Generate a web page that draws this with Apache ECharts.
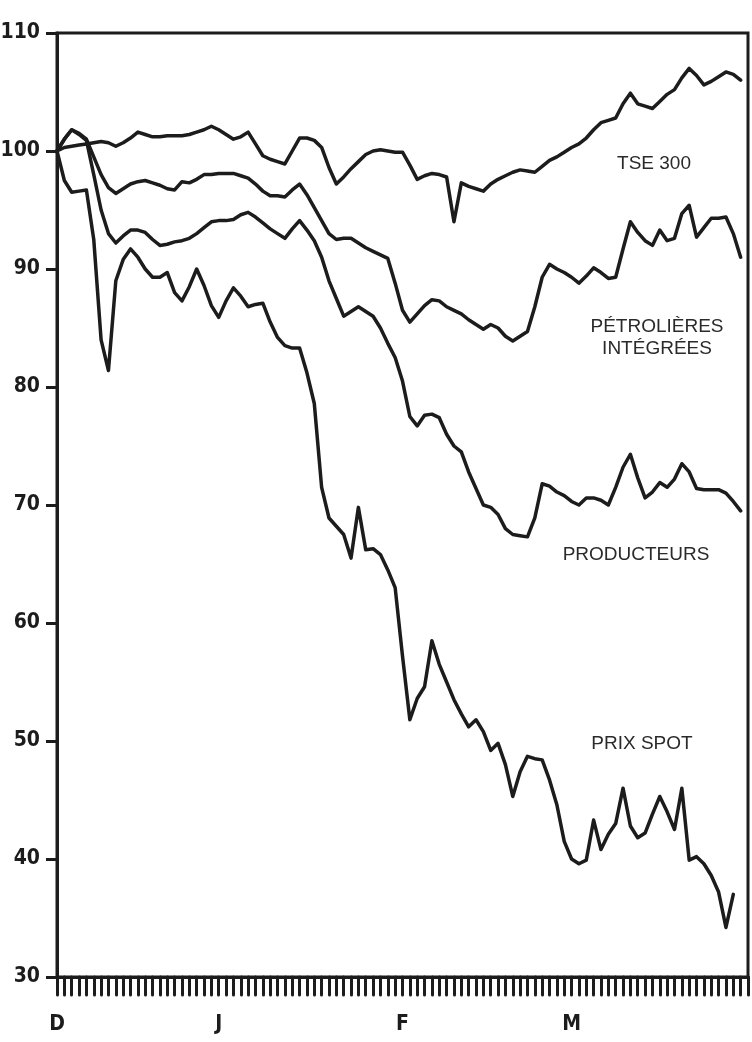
<!DOCTYPE html>
<html>
<head>
<meta charset="utf-8">
<script src="https://cdn.jsdelivr.net/npm/echarts@6/dist/echarts.min.js"></script>
<style>
html,body{margin:0;padding:0;background:#fff;}
#chart{width:752px;height:1042px;}
</style>
</head>
<body>
<div id="chart"></div>
<script>
// Business-day index positions (0 .. 94); month tick labels
const nDays = 95;
const monthTicks = [['D', 0], ['J', 22], ['F', 47], ['M', 70]];
const yTicks = [30, 40, 50, 60, 70, 80, 90, 100, 110];

const tse300 = [100.0,100.3,100.4,100.5,100.6,100.7,100.8,100.7,100.4,100.7,
101.1,101.6,101.4,101.2,101.2,101.3,101.3,101.3,101.4,101.6,
101.8,102.1,101.8,101.4,101.0,101.2,101.6,100.6,99.6,99.3,
99.1,98.9,100.0,101.1,101.1,100.9,100.3,98.6,97.2,97.8,
98.5,99.1,99.7,100.0,100.1,100.0,99.9,99.9,98.8,97.6,
97.9,98.1,98.0,97.8,94.0,97.3,97.0,96.8,96.6,97.2,
97.6,97.9,98.2,98.4,98.3,98.2,98.7,99.2,99.5,99.9,
100.3,100.6,101.1,101.8,102.4,102.6,102.8,104.0,104.9,104.0,
103.8,103.6,104.2,104.8,105.2,106.2,107.0,106.4,105.6,105.9,
106.3,106.7,106.5,106.0];

const petrolieres = [100.0,101.0,101.8,101.5,101.0,99.5,98.0,96.9,96.4,96.8,
97.2,97.4,97.5,97.3,97.1,96.8,96.7,97.4,97.3,97.6,
98.0,98.0,98.1,98.1,98.1,97.9,97.7,97.2,96.6,96.2,
96.2,96.1,96.7,97.2,96.3,95.2,94.1,93.0,92.5,92.6,
92.6,92.2,91.8,91.5,91.2,90.9,88.8,86.5,85.5,86.2,
86.9,87.4,87.3,86.8,86.5,86.2,85.7,85.3,84.9,85.3,
85.0,84.3,83.9,84.3,84.7,86.8,89.3,90.4,90.0,89.7,
89.3,88.8,89.4,90.1,89.7,89.2,89.3,91.7,94.0,93.1,
92.4,92.0,93.3,92.4,92.6,94.7,95.4,92.7,93.5,94.3,
94.3,94.4,93.0,91.0];

const producteurs = [100.0,101.0,101.8,101.4,100.9,98.0,95.0,93.0,92.2,92.8,
93.3,93.3,93.1,92.5,92.0,92.1,92.3,92.4,92.6,93.0,
93.5,94.0,94.1,94.1,94.2,94.6,94.8,94.4,93.9,93.4,
93.0,92.6,93.4,94.1,93.3,92.4,91.0,89.0,87.5,86.0,
86.4,86.8,86.4,86.0,85.0,83.7,82.5,80.5,77.5,76.7,
77.6,77.7,77.4,76.0,75.0,74.5,72.8,71.4,70.0,69.8,
69.2,68.0,67.5,67.4,67.3,68.9,71.8,71.6,71.1,70.8,
70.3,70.0,70.6,70.6,70.4,70.0,71.5,73.2,74.3,72.3,
70.6,71.1,71.9,71.5,72.2,73.5,72.8,71.4,71.3,71.3,
71.3,71.0,70.3,69.5];

const prixSpot = [100.0,97.5,96.5,96.6,96.7,92.5,84.0,81.4,89.0,90.8,
91.7,91.0,90.0,89.3,89.3,89.7,88.0,87.3,88.5,90.0,
88.6,86.9,85.9,87.3,88.4,87.7,86.8,87.0,87.1,85.5,
84.2,83.5,83.3,83.3,81.2,78.6,71.5,68.9,68.2,67.5,
65.5,69.8,66.2,66.3,65.8,64.5,63.0,57.2,51.8,53.6,
54.6,58.5,56.5,55.0,53.5,52.3,51.2,51.8,50.8,49.2,
49.8,48.0,45.3,47.4,48.7,48.5,48.4,46.7,44.6,41.5,
40.0,39.6,39.9,43.3,40.8,42.1,43.0,46.0,42.8,41.8,
42.2,43.8,45.3,44.0,42.5,46.0,39.9,40.2,39.6,38.6,
37.2,34.2,37.0];

const seriesNames = ['TSE 300', 'PÉTROLIÈRES INTÉGRÉES', 'PRODUCTEURS', 'PRIX SPOT'];
const seriesData = [tse300, petrolieres, producteurs, prixSpot];

const categories = [];
for (let i = 0; i < nDays; i++) categories.push(String(i));
const monthMap = {};
monthTicks.forEach(([lab, idx]) => { monthMap[idx] = lab; });

const ink = '#1c1c1c';
const chart = echarts.init(document.getElementById('chart'), null, {renderer: 'canvas'});

const labelFont = {fontFamily: '"DejaVu Sans Condensed", "Liberation Sans Narrow", Roboto, "Liberation Sans", sans-serif', fontWeight: 'bold', fontSize: 21, color: ink};
const textFont = '"Liberation Sans", Arial, sans-serif';

chart.setOption({
  animation: false,
  backgroundColor: '#ffffff',
  grid: {left: 57, right: 4, top: 33, bottom: 65, show: true, borderColor: ink, borderWidth: 3, containLabel: false, outerBoundsMode: 'none'},
  xAxis: {
    type: 'category',
    data: categories,
    boundaryGap: false,
    axisLine: {show: true, lineStyle: {color: ink, width: 3}},
    axisTick: {show: true, interval: 0, length: 18, lineStyle: {color: ink, width: 3, cap: 'round'}},
    axisLabel: {
      show: true, interval: 0, margin: 37,
      formatter: (v, i) => monthMap[i] || '',
      ...labelFont
    },
    splitLine: {show: false}
  },
  yAxis: {
    type: 'value',
    min: 30, max: 110, interval: 10,
    axisLine: {show: true, lineStyle: {color: ink, width: 3}},
    axisTick: {show: true, length: 11, lineStyle: {color: ink, width: 3}},
    axisLabel: {show: true, margin: 17, ...labelFont},
    splitLine: {show: false}
  },
  series: seriesData.map((d, k) => ({
    name: seriesNames[k],
    type: 'line',
    data: d,
    symbol: 'none',
    smooth: false,
    lineStyle: {color: ink, width: 3.5, join: 'round', cap: 'round'},
    z: 3
  })),
  graphic: [
    {type: 'text', x: 654, y: 164, style: {text: 'TSE 300', font: '19px ' + textFont, fill: '#2a2a2a', align: 'center', verticalAlign: 'middle'}},
    {type: 'text', x: 657, y: 338, style: {text: 'PÉTROLIÈRES\nINTÉGRÉES', font: '19px ' + textFont, fill: '#2a2a2a', align: 'center', verticalAlign: 'middle', lineHeight: 22}},
    {type: 'text', x: 636, y: 555, style: {text: 'PRODUCTEURS', font: '19px ' + textFont, fill: '#2a2a2a', align: 'center', verticalAlign: 'middle'}},
    {type: 'text', x: 642, y: 744, style: {text: 'PRIX SPOT', font: '19px ' + textFont, fill: '#2a2a2a', align: 'center', verticalAlign: 'middle'}}
  ]
});
</script>
</body>
</html>
